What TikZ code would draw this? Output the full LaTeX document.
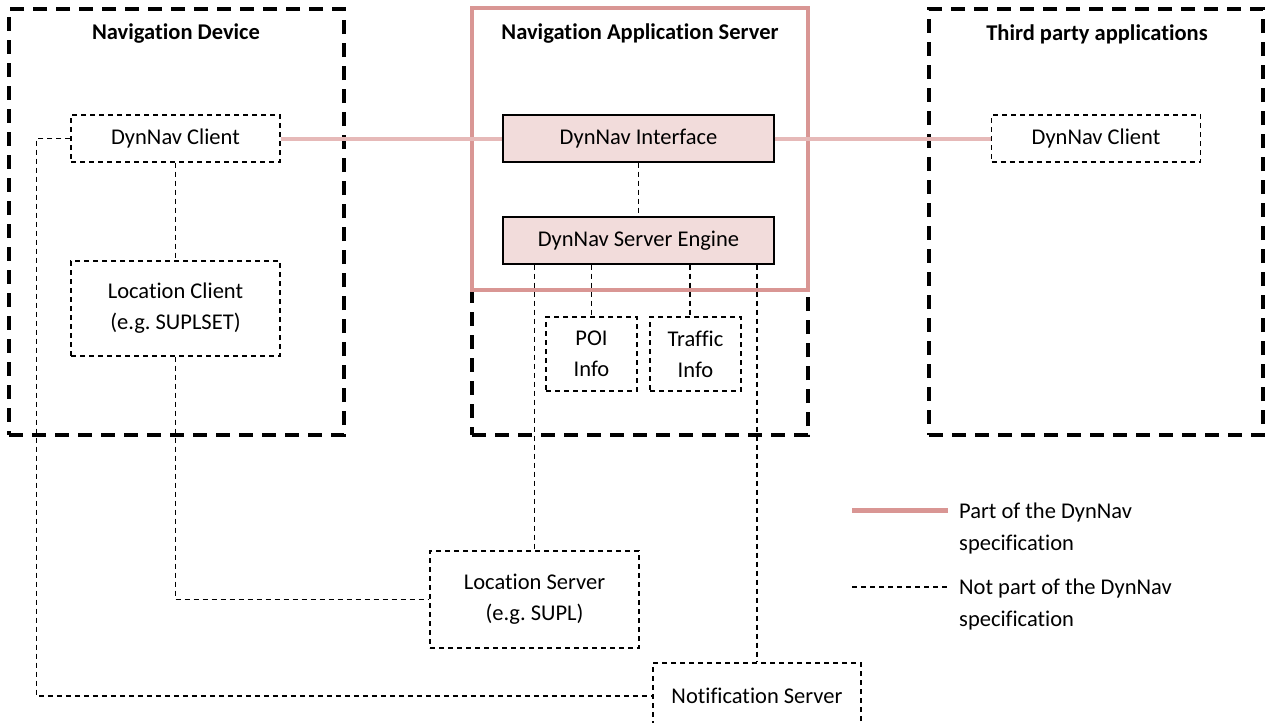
\documentclass[tikz,border=0pt]{standalone}
\usepackage{fontspec}
\setmainfont{Carlito}[Ligatures=NoCommon]
\usetikzlibrary{positioning}
\definecolor{specline}{HTML}{D99694}
\definecolor{speclink}{HTML}{E6B9B8}
\definecolor{specfill}{HTML}{F2DCDB}
\tikzset{
    group/.style = {rectangle, draw=black, line width=3.5pt, dash pattern=on 14pt off 9pt, inner sep=0pt},
    groupspec/.style = {rectangle, draw=specline, line width=4.5pt, inner sep=0pt},
    comp/.style = {rectangle, draw=black, line width=1.3pt, dash pattern=on 5pt off 4pt, align=center, inner sep=0pt, font=\fontsize{22.5}{31}\selectfont},
    comps/.style = {rectangle, draw=black, line width=1.3pt, fill=specfill, align=center, inner sep=0pt, font=\fontsize{22.5}{31}\selectfont},
    grouptitle/.style = {font=\fontsize{22.5}{26}\selectfont\bfseries},
    legendtext/.style = {align=left, anchor=west, inner sep=0pt, font=\fontsize{22.5}{32}\selectfont},
    edges/.style = {line width=4pt, speclink},
    edgen/.style = {line width=1.3pt, dash pattern=on 5pt off 4pt},
    edgel/.style = {line width=5pt, specline}
}
\begin{document}
\begin{tikzpicture}[x=1pt,y=-1pt]
\useasboundingbox (0,0) rectangle (1267,723);
%
\node[group, minimum width=335, minimum height=426] at (176.5,222) (dev) {};
\node[group, minimum width=336, minimum height=427] at (640,221.5) (srv) {};
\node[groupspec, fill=white, minimum width=336, minimum height=282] at (640,149) (srvspec) {};
\node[group, minimum width=334, minimum height=426] at (1096,222) (third) {};
\node[grouptitle] at (176,34) (devtitle) {Navigation Device};
\node[grouptitle] at (640,34) (srvtitle) {Navigation Application Server};
\node[grouptitle] at (1097,34) (thirdtitle) {Third party applications};
%
\node[comp, minimum width=209, minimum height=47] at (175.5,138.5) (clientl) {DynNav Client};
\node[comp, minimum width=209, minimum height=95] at (175.5,308.5) (locc) {Location Client\\(e.g.\ SUPLSET)};
\node[comps, minimum width=271, minimum height=47] at (638.5,138.5) (iface) {DynNav Interface};
\node[comps, minimum width=271, minimum height=47] at (638.5,240.5) (engine) {DynNav Server Engine};
\node[comp, minimum width=91, minimum height=74] at (591.5,354) (poi) {POI\\Info};
\node[comp, minimum width=91, minimum height=74] at (695.5,354) (traffic) {Traffic\\Info};
\node[comp, minimum width=209, minimum height=47] at (1096,138.5) (clientr) {DynNav Client};
\node[comp, minimum width=209, minimum height=97] at (534.5,599.5) (locs) {Location Server\\(e.g.\ SUPL)};
\node[comp, minimum width=208, minimum height=66] at (757,696) (notif) {Notification Server};
%
\draw[edges] (clientl) -- (iface);
\draw[edges] (iface) -- (clientr);
\draw[edgen] (clientl) -- (locc);
\draw[edgen] (iface) -- (engine);
\draw[edgen] (engine.south -| locs.north) -- (locs.north);
\draw[edgen] (engine.south -| poi.north) -- (poi.north);
\draw[edgen] (engine.south -| 690,0) -- (690,317);
\draw[edgen] (engine.south -| notif.north) -- (notif.north);
\draw[edgen] (locc.south) |- (locs.west);
\draw[edgen] (clientl.west) -- ++(-34,0) |- (notif.west);
%
\coordinate (lega) at (852,510);
\coordinate (legb) at (948,510);
\coordinate (legc) at (852,587);
\coordinate (legd) at (948,587);
\draw[edgel] (lega) -- (legb);
\draw[edgen] (legc) -- (legd);
\node[legendtext] at (959,528) (legspec) {Part of the DynNav\\specification};
\node[legendtext] at (959,604) (legnot) {Not part of the DynNav\\specification};
\end{tikzpicture}
\end{document}
